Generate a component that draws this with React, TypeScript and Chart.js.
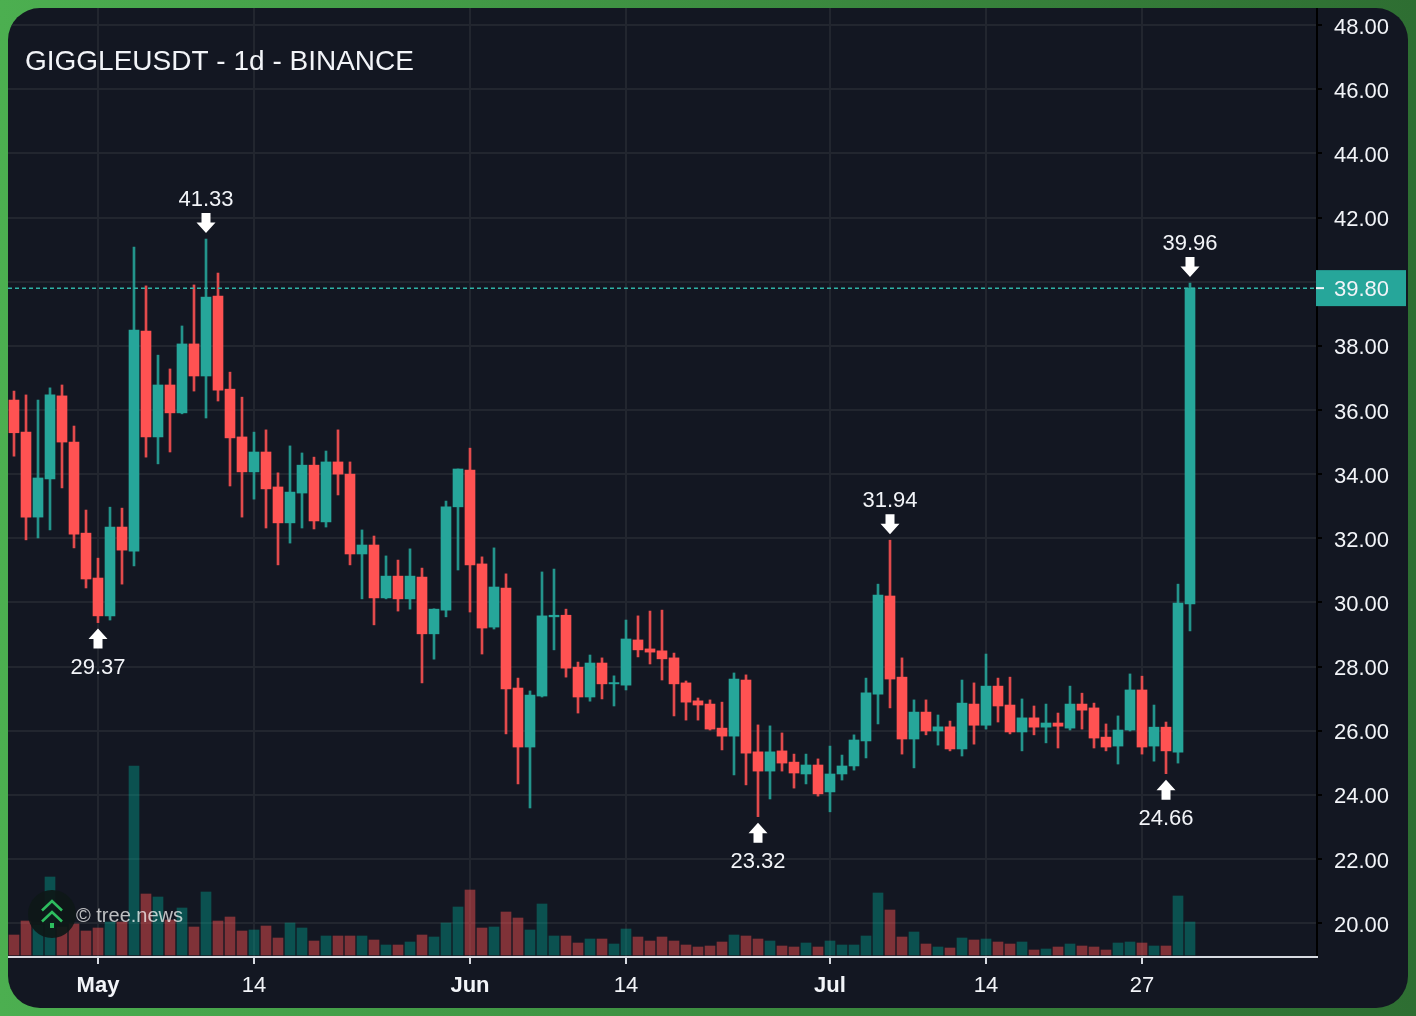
import React, { useEffect, useRef } from "react";
import { Chart, registerables } from "chart.js";

Chart.register(...registerables);

const monthDays: [string, number, number][] = [["Apr", 24, 30], ["May", 1, 31], ["Jun", 1, 30], ["Jul", 1, 31], ["Aug", 1, 10]];
const categories: string[] = [];
monthDays.forEach(([m, a, b]) => { for (let d = a; d <= b; d++) categories.push(`${m} ${d}`); });

const opens = [36.31,35.31,32.66,33.85,36.44,35.00,32.16,30.76,29.58,32.35,31.60,38.46,35.16,36.78,35.91,38.06,37.06,39.55,36.65,35.16,34.07,34.69,33.60,32.48,33.41,34.28,32.51,34.38,34.00,31.51,31.79,30.14,30.82,30.11,30.79,29.02,29.76,32.98,34.13,31.20,29.23,30.45,27.33,25.49,27.08,29.55,29.60,27.98,27.05,28.11,27.46,27.42,28.83,28.55,28.49,28.27,27.49,26.93,26.83,26.08,25.83,27.58,25.34,24.74,25.37,25.02,24.65,24.93,24.09,24.65,24.90,25.68,27.14,30.20,27.67,25.74,26.58,25.99,26.12,25.43,26.83,26.17,27.39,26.80,25.96,26.40,26.11,26.24,26.08,26.83,26.71,25.80,25.52,26.02,27.27,25.52,26.11,25.33,29.95];
const closes = [35.29,32.66,33.88,36.47,35.00,32.13,30.73,29.58,32.35,31.63,38.49,35.16,36.78,35.91,38.06,37.06,39.52,36.62,35.13,34.07,34.69,33.54,32.48,33.44,34.28,32.54,34.38,34.00,31.51,31.79,30.14,30.82,30.11,30.82,29.02,29.79,32.98,34.16,31.17,29.20,30.48,27.30,25.49,27.11,29.58,29.60,27.95,27.05,28.11,27.46,27.50,28.86,28.52,28.45,28.24,27.46,26.89,26.80,26.05,25.83,27.61,25.30,24.74,25.34,24.99,24.68,24.93,24.03,24.65,24.90,25.71,27.18,30.23,27.61,25.74,26.58,25.99,26.12,25.43,26.86,26.17,27.39,26.77,25.96,26.40,26.11,26.24,26.14,26.83,26.64,25.77,25.49,26.02,27.27,25.49,26.11,25.37,29.98,39.80];
const highs = [36.59,36.47,36.31,36.69,36.78,35.50,32.88,31.38,32.97,32.94,41.08,39.87,37.71,37.28,38.62,39.90,41.33,40.27,37.18,36.40,35.31,35.38,34.04,34.88,34.66,34.53,34.72,35.38,34.38,32.26,32.07,31.45,31.32,31.67,31.07,29.80,33.16,34.16,34.81,31.42,31.70,30.89,27.64,27.24,30.95,31.04,29.79,28.14,28.36,28.27,27.71,29.45,29.58,29.73,29.76,28.42,27.55,27.02,26.96,26.89,27.80,27.74,26.18,26.15,25.93,25.27,25.27,25.12,25.52,25.24,25.87,27.64,30.57,31.94,28.27,26.96,26.96,26.49,26.30,27.58,27.49,28.39,27.64,27.67,26.99,26.77,26.83,26.55,27.39,27.17,26.86,26.21,26.46,27.77,27.70,26.80,26.27,30.57,39.96];
const lows = [34.56,31.95,32.01,32.26,33.57,31.70,30.45,29.37,29.45,30.57,31.14,34.53,34.32,34.69,35.88,36.59,35.75,36.28,33.63,32.66,33.22,32.32,31.17,31.85,32.32,32.29,32.35,33.35,31.17,30.11,29.30,30.11,29.73,29.79,27.49,28.23,29.55,31.01,29.70,28.39,29.17,25.90,24.34,23.59,27.05,28.52,27.67,26.55,26.92,26.99,26.77,27.27,28.30,28.08,27.58,26.46,26.33,26.33,26.02,25.40,24.62,24.31,23.32,23.87,24.74,24.21,24.34,23.96,23.47,24.46,24.77,25.15,26.21,26.71,25.27,24.84,25.87,25.55,25.37,25.21,25.58,26.05,26.27,25.90,25.37,25.87,25.62,25.46,26.02,26.05,25.46,25.37,24.96,25.99,25.27,25.05,24.66,24.99,29.11];
const volumes = [20,34,30,78,28,31,24,27,33,33,189,61,58,35,47,28,63,34,38,24,25,29,17,32,27,14,19,19,19,19,15,10,10,13,20,18,32,48,65,27,28,43,37,25,51,19,19,12,16,16,11,26,18,14,18,14,10,8,9,13,20,19,16,14,9,8,12,8,14,10,10,19,62,45,18,23,11,8,7,17,15,16,13,11,13,5,6,8,11,9,8,5,12,13,12,9,9,59,33];

const tickLabels: Record<string, string> = { "May 1": "May", "May 14": "14", "Jun 1": "Jun", "Jun 14": "14", "Jul 1": "Jul", "Jul 14": "14", "Jul 27": "27" };
const boldLabels = ["May", "Jun", "Jul"];
const markers = [
  { date: "May 1", side: "low" },
  { date: "May 10", side: "high" },
  { date: "Jun 25", side: "low" },
  { date: "Jul 6", side: "high" },
  { date: "Jul 29", side: "low" },
  { date: "Jul 31", side: "high" },
];
const title = "GIGGLEUSDT - 1d - BINANCE";
const watermark = "© tree.news";
const lastPrice = 39.8;

const UP = "#26a69a";
const DOWN = "#ff5252";
const FONT = "'Liberation Sans', Arial, sans-serif";
const TEXT = "#f2f4f8";
const GRID = "#22262f";
const AXIS = "#d8dbe2";

const overlay = {
  id: "overlay",
  afterDraw(chart: any) {
    const { ctx, scales, chartArea } = chart;
    const x = scales.x, y = scales.y;
    ctx.save();
    // right axis rule and the end of the time axis rule
    ctx.fillStyle = "#000000";
    ctx.fillRect(chartArea.right, chartArea.top, 2, chartArea.bottom - chartArea.top);
    ctx.fillStyle = AXIS;
    ctx.fillRect(chartArea.right - 1, chartArea.bottom - 1, 3, 2);

    // last price line
    const py = y.getPixelForValue(lastPrice);
    ctx.strokeStyle = "#2fb3a6";
    ctx.lineWidth = 1.5;
    ctx.setLineDash([4, 3]);
    ctx.beginPath();
    ctx.moveTo(chartArea.left, py);
    ctx.lineTo(chartArea.right, py);
    ctx.stroke();
    ctx.setLineDash([]);
    ctx.fillStyle = UP;
    ctx.fillRect(chartArea.right, py - 18, 90, 36);
    ctx.fillStyle = TEXT;
    ctx.fillRect(chartArea.right, py - 1, 8, 2);
    ctx.font = `22px ${FONT}`;
    ctx.textBaseline = "middle";
    ctx.textAlign = "left";
    ctx.fillText(lastPrice.toFixed(2), chartArea.right + 18, py + 1.5);

    // high / low markers
    ctx.textAlign = "center";
    markers.forEach((m) => {
      const i = categories.indexOf(m.date);
      const isHigh = m.side === "high";
      const v = isHigh ? highs[i] : lows[i];
      const cx = x.getPixelForValue(i);
      const vy = y.getPixelForValue(v);
      const dir = isHigh ? -1 : 1;
      const tip = vy + dir * 6;
      ctx.fillStyle = "#ffffff";
      ctx.beginPath();
      ctx.moveTo(cx, tip);
      ctx.lineTo(cx + 9.5, tip + dir * 10.5);
      ctx.lineTo(cx + 4.5, tip + dir * 10.5);
      ctx.lineTo(cx + 4.5, tip + dir * 20);
      ctx.lineTo(cx - 4.5, tip + dir * 20);
      ctx.lineTo(cx - 4.5, tip + dir * 10.5);
      ctx.lineTo(cx - 9.5, tip + dir * 10.5);
      ctx.closePath();
      ctx.fill();
      ctx.fillStyle = TEXT;
      ctx.fillText(v.toFixed(2), cx, tip + (isHigh ? -33 : 39));
    });

    // title
    ctx.textAlign = "left";
    ctx.fillStyle = TEXT;
    ctx.font = `28px ${FONT}`;
    ctx.fillText(title, 17, 54);

    // watermark
    ctx.fillStyle = "rgba(14,24,24,0.92)";
    ctx.beginPath();
    ctx.arc(44, 906, 24, 0, Math.PI * 2);
    ctx.fill();
    ctx.strokeStyle = "#2ebd5f";
    ctx.lineWidth = 2.6;
    [893, 904].forEach((t) => {
      ctx.beginPath();
      ctx.moveTo(34, t + 9.5);
      ctx.lineTo(44, t);
      ctx.lineTo(54, t + 9.5);
      ctx.stroke();
    });
    ctx.fillStyle = "#2ebd5f";
    ctx.fillRect(42, 915, 4, 5);
    ctx.fillStyle = "rgba(255,255,255,0.72)";
    ctx.font = `20px ${FONT}`;
    ctx.fillText(watermark, 68, 908);
    ctx.restore();
  },
};

export default function App() {
  const ref = useRef<HTMLCanvasElement>(null);
  useEffect(() => {
    const dir = opens.map((o, i) => closes[i] >= o);
    const chart = new Chart(ref.current as HTMLCanvasElement, {
      type: "bar",
      data: {
        labels: categories,
        datasets: [
          {
            label: "Volume",
            yAxisID: "y2",
            data: volumes,
            backgroundColor: dir.map((u) => (u ? "rgba(0,170,150,0.40)" : "rgba(255,82,82,0.46)")),
            barThickness: 10,
            order: 3,
          },
          {
            label: "Wick",
            yAxisID: "y",
            data: lows.map((l, i) => [l, highs[i]]),
            backgroundColor: dir.map((u) => (u ? "rgba(38,166,154,0.88)" : "rgba(255,82,82,0.88)")),
            barThickness: 2,
            order: 2,
          },
          {
            label: "Body",
            yAxisID: "y",
            data: opens.map((o, i) => [o, closes[i]]),
            backgroundColor: dir.map((u) => (u ? UP : DOWN)),
            barThickness: 10,
            order: 1,
          },
        ] as any,
      },
      options: {
        responsive: false,
        animation: false,
        layout: { padding: 0 },
        datasets: { bar: { grouped: false, borderWidth: 0, borderSkipped: false } as any },
        plugins: { legend: { display: false }, tooltip: { enabled: false }, title: { display: false } },
        scales: {
          x: {
            type: "category",
            offset: true,
            grid: { offset: false, color: GRID, lineWidth: 2, tickColor: AXIS, tickWidth: 2, tickLength: 7 },
            border: { color: AXIS, width: 2 },
            afterBuildTicks: (s: any) => {
              s.ticks = s.ticks.filter((t: any) => tickLabels[categories[t.value]]);
            },
            afterFit: (s: any) => {
              s.height = 51;
              s.paddingLeft = s.paddingRight = s.paddingTop = s.paddingBottom = 0;
            },
            ticks: {
              autoSkip: false,
              maxRotation: 0,
              padding: 9,
              color: TEXT,
              font: (c: any) => ({
                family: FONT,
                size: 22,
                weight: c.tick && boldLabels.includes(c.tick.label) ? "bold" : "normal",
              }),
              callback: (_v: any, i: number, ts: any[]) => tickLabels[categories[ts[i].value]],
            },
          },
          y: {
            position: "right",
            min: 18.943,
            max: 48.535,
            grid: { color: GRID, lineWidth: 2, tickColor: "#000000", tickWidth: 2, tickLength: 6 },
            border: { display: false },
            afterFit: (s: any) => {
              s.width = 92;
              s.paddingLeft = s.paddingRight = s.paddingTop = s.paddingBottom = 0;
            },
            ticks: {
              stepSize: 2,
              includeBounds: false,
              padding: 12,
              labelOffset: 2.5,
              color: TEXT,
              font: { family: FONT, size: 22 },
              callback: (v: any) => Number(v).toFixed(2),
            },
          },
          y2: { display: false, min: -2, max: 947 },
        },
      } as any,
      plugins: [overlay],
    });
    return () => chart.destroy();
  }, []);

  return (
    <div
      style={{
        position: "fixed",
        left: 0,
        top: 0,
        width: 1416,
        height: 1016,
        background: "linear-gradient(90deg, #4caf50 0%, #2e6e32 100%)",
      }}
    >
      <div
        style={{
          position: "absolute",
          left: 8,
          top: 8,
          width: 1400,
          height: 1000,
          borderRadius: 32,
          overflow: "hidden",
          background: "#131722",
        }}
      >
        <canvas ref={ref} width={1400} height={1000} style={{ display: "block" }} />
      </div>
    </div>
  );
}
